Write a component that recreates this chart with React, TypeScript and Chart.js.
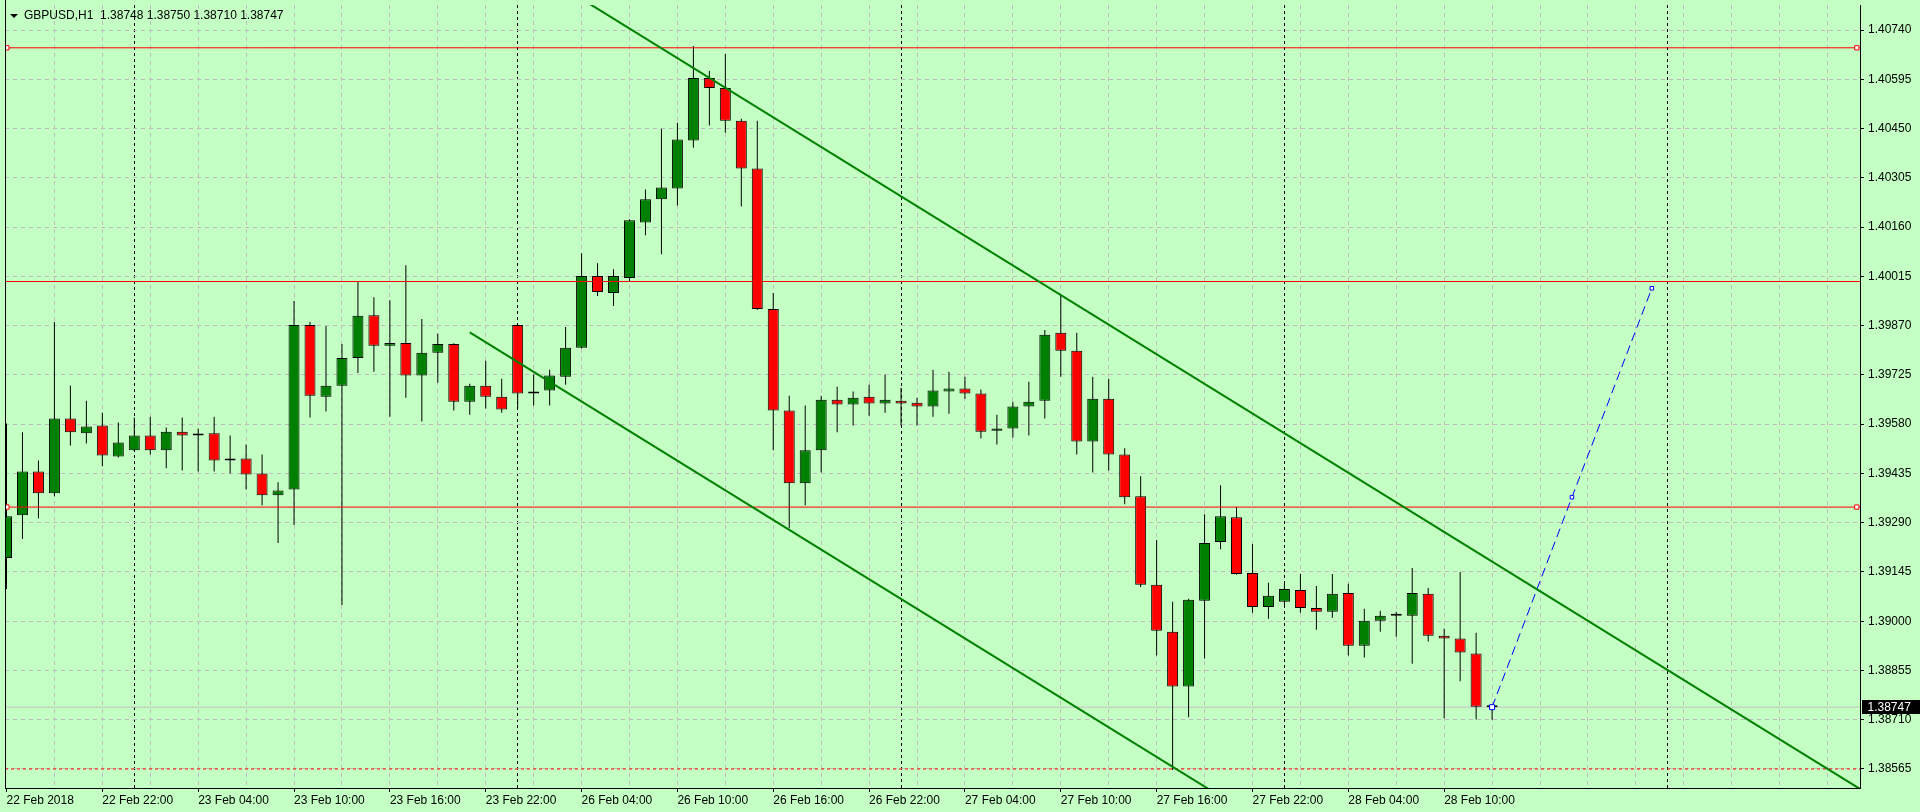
import React, { useEffect, useRef } from "react";
import { Chart, registerables } from "chart.js";

Chart.register(...registerables);

// ---------- DATA ----------
const SYMBOL = "GBPUSD,H1";

const opens = [
  1.39186, 1.39312, 1.39441, 1.39377, 1.39597, 1.39553, 1.39576, 1.39485, 1.39503, 1.39547,
  1.39503, 1.39558, 1.39547, 1.39553, 1.39473, 1.39479, 1.39435, 1.39371, 1.39388, 1.39872,
  1.39661, 1.39693, 1.39775, 1.39901, 1.39811, 1.39819, 1.39723, 1.39790, 1.39816, 1.39646,
  1.39693, 1.39661, 1.39872, 1.39670, 1.39679, 1.39720, 1.39805, 1.40016, 1.39966, 1.40010,
  1.40174, 1.40242, 1.40274, 1.40415, 1.40599, 1.40570, 1.40473, 1.40333, 1.39919, 1.39620,
  1.39406, 1.39503, 1.39652, 1.39638, 1.39661, 1.39641, 1.39649, 1.39643, 1.39632, 1.39676,
  1.39685, 1.39670, 1.39561, 1.39567, 1.39632, 1.39649, 1.39849, 1.39796, 1.39529, 1.39655,
  1.39491, 1.39368, 1.39107, 1.38969, 1.38808, 1.39060, 1.39233, 1.39306, 1.39142, 1.39042,
  1.39057, 1.39092, 1.39039, 1.39028, 1.39083, 1.38928, 1.39001, 1.39016, 1.39016, 1.39081,
  1.38957, 1.38949, 1.38905, 1.38748,
];

const highs = [
  1.39582, 1.39556, 1.39473, 1.39881, 1.39693, 1.39649, 1.39614, 1.39585, 1.39600, 1.39602,
  1.39570, 1.39600, 1.39567, 1.39602, 1.39547, 1.39520, 1.39491, 1.39409, 1.39943, 1.39881,
  1.39869, 1.39816, 1.40001, 1.39954, 1.39945, 1.40048, 1.39890, 1.39846, 1.39818, 1.39699,
  1.39767, 1.39714, 1.39874, 1.39726, 1.39740, 1.39866, 1.40083, 1.40054, 1.40036, 1.40183,
  1.40271, 1.40450, 1.40467, 1.40693, 1.40620, 1.40670, 1.40479, 1.40473, 1.39966, 1.39664,
  1.39635, 1.39664, 1.39690, 1.39676, 1.39696, 1.39726, 1.39687, 1.39658, 1.39740, 1.39734,
  1.39720, 1.39682, 1.39608, 1.39646, 1.39705, 1.39857, 1.39960, 1.39849, 1.39720, 1.39714,
  1.39509, 1.39427, 1.39239, 1.39057, 1.39066, 1.39315, 1.39400, 1.39336, 1.39227, 1.39113,
  1.39110, 1.39139, 1.39104, 1.39139, 1.39110, 1.39037, 1.39031, 1.39028, 1.39157, 1.39098,
  1.38978, 1.39145, 1.38966, 1.38750,
];

const lows = [
  1.39095, 1.39242, 1.39303, 1.39368, 1.39517, 1.39523, 1.39456, 1.39482, 1.39500, 1.39491,
  1.39450, 1.39444, 1.39441, 1.39441, 1.39435, 1.39388, 1.39341, 1.39230, 1.39283, 1.39600,
  1.39617, 1.39048, 1.39731, 1.39734, 1.39602, 1.39658, 1.39588, 1.39702, 1.39620, 1.39608,
  1.39626, 1.39614, 1.39626, 1.39635, 1.39635, 1.39696, 1.39803, 1.39957, 1.39928, 1.40001,
  1.40136, 1.40080, 1.40224, 1.40394, 1.40459, 1.40438, 1.40221, 1.39916, 1.39503, 1.39274,
  1.39341, 1.39438, 1.39556, 1.39576, 1.39605, 1.39614, 1.39576, 1.39576, 1.39602, 1.39611,
  1.39655, 1.39538, 1.39520, 1.39541, 1.39547, 1.39597, 1.39720, 1.39491, 1.39438, 1.39444,
  1.39344, 1.39101, 1.38899, 1.38562, 1.38717, 1.38890, 1.39212, 1.39137, 1.39025, 1.39007,
  1.39045, 1.39025, 1.38975, 1.39010, 1.38899, 1.38893, 1.38969, 1.38954, 1.38875, 1.38940,
  1.38714, 1.38823, 1.38711, 1.38710,
];

const closes = [
  1.39309, 1.39441, 1.39377, 1.39597, 1.39556, 1.39573, 1.39488, 1.39526, 1.39547, 1.39503,
  1.39558, 1.39547, 1.39547, 1.39473, 1.39473, 1.39432, 1.39371, 1.39385, 1.39872, 1.39664,
  1.39693, 1.39775, 1.39899, 1.39811, 1.39819, 1.39723, 1.39790, 1.39816, 1.39646, 1.39693,
  1.39661, 1.39623, 1.39670, 1.39676, 1.39723, 1.39805, 1.40016, 1.39969, 1.40016, 1.40180,
  1.40242, 1.40277, 1.40418, 1.40599, 1.40570, 1.40473, 1.40333, 1.39919, 1.39620, 1.39406,
  1.39503, 1.39652, 1.39638, 1.39658, 1.39641, 1.39652, 1.39641, 1.39632, 1.39679, 1.39685,
  1.39670, 1.39558, 1.39567, 1.39632, 1.39646, 1.39843, 1.39796, 1.39529, 1.39655, 1.39491,
  1.39365, 1.39107, 1.38972, 1.38808, 1.39063, 1.39230, 1.39309, 1.39139, 1.39042, 1.39075,
  1.39095, 1.39039, 1.39028, 1.39081, 1.38928, 1.39001, 1.39016, 1.39016, 1.39083, 1.38957,
  1.38949, 1.38908, 1.38748, 1.38747,
];

const xLabelBars = [0, 6, 12, 18, 24, 30, 36, 42, 48, 54, 60, 66, 72, 78, 84, 90];
const xLabels = [
  "22 Feb 2018", "22 Feb 22:00", "23 Feb 04:00", "23 Feb 10:00", "23 Feb 16:00",
  "23 Feb 22:00", "26 Feb 04:00", "26 Feb 10:00", "26 Feb 16:00", "26 Feb 22:00",
  "27 Feb 04:00", "27 Feb 10:00", "27 Feb 16:00", "27 Feb 22:00", "28 Feb 04:00",
  "28 Feb 10:00",
];
const daySeparatorBars = [8, 32, 56, 80, 104];

const priceTicks = [
  1.38565, 1.3871, 1.38855, 1.39, 1.39145, 1.3929, 1.39435, 1.3958,
  1.39725, 1.3987, 1.40015, 1.4016, 1.40305, 1.4045, 1.40595, 1.4074,
];

const resistanceLevels = [1.40688, 1.40000, 1.39336];
const markedLevels = [1.40688, 1.39336];
const supportLevel = 1.38565;

const upperTrend = [
  { x: 35, y: 1.40861 },
  { x: 117, y: 1.38478 },
];
const lowerTrend = [
  { x: 29, y: 1.3985 },
  { x: 80, y: 1.38368 },
];
const projection = [
  { x: 93, y: 1.38747 },
  { x: 98, y: 1.39365 },
  { x: 103, y: 1.3998 },
];

// ---------- STYLE / LAYOUT ----------
const BG = "rgb(196,255,196)";
const GRID = "rgb(190,186,190)";
const GREEN = "#008000";
const RED = "#ff0000";
const FONT_FAMILY = '"Liberation Sans", Arial, sans-serif';
const X_MIN = -0.09375;
const X_MAX = 116.03125;
const Y_MIN = 1.38509;
const Y_MAX = 1.40814;
const GRID_STEP = 3;

export default function App() {
  const canvasRef = useRef<HTMLCanvasElement | null>(null);

  useEffect(() => {
    document.body.style.margin = "0";
    document.body.style.background = BG;
    const canvas = canvasRef.current;
    if (!canvas) return;

    const last = opens.length - 1;
    const lastClose = closes[last];
    const bars = opens.map((_, i) => i);
    const bodyColors = bars.map((i) => {
      const d = closes[i] - opens[i];
      return d > 0.00002 ? GREEN : d < -0.00002 ? RED : "#000000";
    });

    const gridBars: number[] = [];
    for (let b = GRID_STEP; b < X_MAX; b += GRID_STEP) gridBars.push(b);
    const xTickValues = Array.from(
      new Set([...gridBars, ...daySeparatorBars, ...xLabelBars])
    ).sort((a, b) => a - b);

    const labelFor = (v: number) => {
      const k = xLabelBars.indexOf(v);
      return k >= 0 ? xLabels[k] : "";
    };

    const titleText =
      SYMBOL +
      "  " +
      [opens[last], highs[last], lows[last], closes[last]].map((v) => v.toFixed(5)).join(" ");

    const lineDs = (data: any[], color: string, width: number, dash: number[], order: number) => ({
      type: "line" as const,
      data,
      borderColor: color,
      borderWidth: width,
      borderDash: dash,
      pointRadius: 0,
      fill: false,
      tension: 0,
      order,
      clip: 0,
    });

    const overlayPlugin = {
      id: "mt4Overlay",
      beforeDraw(chart: any) {
        const { ctx, width, height } = chart;
        ctx.save();
        ctx.fillStyle = BG;
        ctx.fillRect(0, 0, width, height);
        ctx.restore();
      },
      afterDraw(chart: any) {
        const { ctx, chartArea: a } = chart;
        const yScale = chart.scales.y;
        ctx.save();
        // left frame
        ctx.strokeStyle = "#000";
        ctx.lineWidth = 1;
        ctx.beginPath();
        ctx.moveTo(a.left + 0.5, 0);
        ctx.lineTo(a.left + 0.5, a.bottom);
        ctx.stroke();
        // title
        ctx.fillStyle = "#000";
        ctx.beginPath();
        ctx.moveTo(a.left + 5, a.top + 9);
        ctx.lineTo(a.left + 13, a.top + 9);
        ctx.lineTo(a.left + 9, a.top + 13);
        ctx.closePath();
        ctx.fill();
        ctx.font = "12px " + FONT_FAMILY;
        ctx.textAlign = "left";
        ctx.textBaseline = "alphabetic";
        ctx.fillText(titleText, a.left + 19, a.top + 14);
        // current price box
        const py = yScale.getPixelForValue(lastClose);
        ctx.fillStyle = "#000";
        ctx.fillRect(a.right + 2, Math.round(py) - 7, chart.width - a.right - 2, 14);
        ctx.fillStyle = "#fff";
        ctx.textBaseline = "middle";
        ctx.fillText(lastClose.toFixed(5), a.right + 7.5, Math.round(py) + 0.5);
        ctx.restore();
      },
    };

    const datasets: any[] = [
      // bid line
      lineDs(
        [
          { x: X_MIN, y: lastClose },
          { x: X_MAX, y: lastClose },
        ],
        "#c0c0c0",
        1,
        [],
        6
      ),
      // wicks
      {
        type: "bar",
        data: bars.map((i) => ({ x: i, y: [lows[i], highs[i]] })),
        backgroundColor: "#000000",
        borderWidth: 0,
        barThickness: 1,
        grouped: false,
        inflateAmount: 0,
        order: 5,
        clip: 0,
      },
      // bodies
      {
        type: "bar",
        data: bars.map((i) => ({ x: i, y: [opens[i], closes[i]] })),
        backgroundColor: bodyColors,
        borderColor: "#000000",
        borderWidth: 1,
        borderSkipped: false,
        barThickness: 11,
        minBarLength: 2,
        grouped: false,
        inflateAmount: 0,
        order: 4,
        clip: 0,
      },
      ...resistanceLevels.map((lv) =>
        lineDs(
          [
            { x: X_MIN, y: lv },
            { x: X_MAX, y: lv },
          ],
          RED,
          1,
          [],
          3
        )
      ),
      lineDs(
        [
          { x: X_MIN, y: supportLevel },
          { x: X_MAX, y: supportLevel },
        ],
        RED,
        1,
        [3, 3],
        3
      ),
      lineDs(upperTrend, GREEN, 2, [], 2),
      lineDs(lowerTrend, GREEN, 2, [], 2),
      lineDs(projection, "#0000ff", 1, [9, 5], 2),
      // level markers
      {
        type: "scatter",
        data: markedLevels.flatMap((lv) => [
          { x: X_MIN + 0.12, y: lv },
          { x: X_MAX - 0.2, y: lv },
        ]),
        pointStyle: "rect",
        pointRadius: 3,
        pointBorderColor: RED,
        pointBackgroundColor: "#ffffff",
        pointBorderWidth: 1,
        showLine: false,
        order: 1,
      },
      // projection markers
      {
        type: "scatter",
        data: projection,
        pointStyle: "rect",
        pointRadius: [3.5, 2.5, 2.5],
        pointBorderColor: "#0000ff",
        pointBackgroundColor: "#ffffff",
        pointBorderWidth: 1,
        showLine: false,
        order: 0,
      },
    ];

    const chart = new Chart(canvas, {
      type: "bar",
      data: { datasets },
      options: {
        animation: false,
        responsive: false,
        devicePixelRatio: 1,
        events: [],
        layout: { padding: { left: 2, top: 2, right: 0, bottom: 0 } },
        plugins: { legend: { display: false }, tooltip: { enabled: false } },
        scales: {
          x: {
            type: "linear",
            position: "bottom",
            min: X_MIN,
            max: X_MAX,
            bounds: "data",
            offset: false,
            afterFit: (s: any) => {
              s.height = 24;
              s.paddingLeft = 0;
              s.paddingRight = 0;
              s.paddingTop = 0;
              s.paddingBottom = 0;
            },
            afterBuildTicks: (s: any) => {
              s.ticks = xTickValues.map((v) => ({ value: v }));
            },
            grid: {
              offset: false,
              drawOnChartArea: true,
              drawTicks: true,
              tickLength: 4,
              lineWidth: 1,
              color: (c: any) => {
                const v = c.tick ? c.tick.value : NaN;
                if (daySeparatorBars.includes(v)) return "#000000";
                if (gridBars.includes(v)) return GRID;
                return "rgba(0,0,0,0)";
              },
              tickColor: (c: any) => {
                const v = c.tick ? c.tick.value : NaN;
                return xLabelBars.includes(v) ? "#000000" : "rgba(0,0,0,0)";
              },
              tickBorderDash: [],
            },
            border: {
              display: true,
              color: "#000000",
              width: 1,
              dash: (c: any) => {
                if (!c.tick) return [];
                return daySeparatorBars.includes(c.tick.value) ? [3, 3] : [4, 4];
              },
            },
            ticks: {
              autoSkip: false,
              maxRotation: 0,
              minRotation: 0,
              align: "start",
              padding: 1,
              color: "#000000",
              font: { family: FONT_FAMILY, size: 12 },
              callback: (v: any) => labelFor(Number(v)),
            },
          },
          y: {
            type: "linear",
            position: "right",
            min: Y_MIN,
            max: Y_MAX,
            bounds: "data",
            beginAtZero: false,
            afterFit: (s: any) => {
              s.width = 60;
              s.paddingLeft = 0;
              s.paddingRight = 0;
              s.paddingTop = 0;
              s.paddingBottom = 0;
            },
            afterBuildTicks: (s: any) => {
              s.ticks = priceTicks.map((v) => ({ value: v }));
            },
            grid: {
              drawOnChartArea: true,
              drawTicks: true,
              tickLength: 4,
              lineWidth: 1,
              color: GRID,
              tickColor: "#000000",
              tickBorderDash: [],
            },
            border: {
              display: true,
              color: "#000000",
              width: 1,
              dash: (c: any) => (c.tick ? [4, 4] : []),
            },
            ticks: {
              padding: 4,
              color: "#000000",
              font: { family: FONT_FAMILY, size: 12 },
              callback: (v: any) => Number(v).toFixed(5),
            },
          },
        },
      } as any,
      plugins: [overlayPlugin],
    } as any);

    return () => chart.destroy();
  }, []);

  return (
    <div style={{ width: 1920, height: 812, background: BG }}>
      <canvas ref={canvasRef} width={1920} height={812} style={{ display: "block" }} />
    </div>
  );
}
